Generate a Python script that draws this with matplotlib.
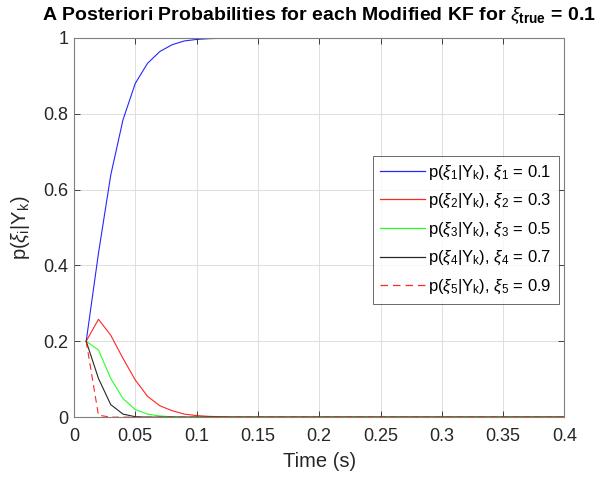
import numpy as np
import matplotlib
matplotlib.use("Agg")
import matplotlib.pyplot as plt
from matplotlib.ticker import FuncFormatter

plt.rcParams['font.family'] = ['Liberation Sans', 'DejaVu Sans']
plt.rcParams['mathtext.fontset'] = 'custom'
plt.rcParams['mathtext.rm'] = 'Liberation Sans'
plt.rcParams['mathtext.it'] = 'Liberation Sans:italic'
plt.rcParams['mathtext.bf'] = 'Liberation Sans:bold'

# time steps of the filter bank
t = np.arange(1, 41) / 100.0

# posterior probabilities (first steps, then settled)
p1_head = [0.2, 0.432, 0.638, 0.784, 0.880, 0.933, 0.964, 0.982, 0.992, 0.996, 0.998, 0.999]
p2_head = [0.2, 0.258, 0.216, 0.155, 0.098, 0.055, 0.030, 0.017, 0.008, 0.004, 0.002, 0.001]
p3_head = [0.2, 0.177, 0.102, 0.049, 0.020, 0.008, 0.003, 0.001]
p4_head = [0.2, 0.102, 0.033, 0.008, 0.001]
p5_head = [0.2, 0.005]

p1 = p1_head + [1.0] * (len(t) - len(p1_head))
p2 = p2_head + [0.0] * (len(t) - len(p2_head))
p3 = p3_head + [0.0] * (len(t) - len(p3_head))
p4 = p4_head + [0.0] * (len(t) - len(p4_head))
p5 = p5_head + [0.0] * (len(t) - len(p5_head))

xi = [0.1, 0.3, 0.5, 0.7, 0.9]
series = [p1, p2, p3, p4, p5]
colors = ['#0000ff', '#ff0000', '#00ff00', '#000000', '#ff0000']
dashes = [None, None, None, None, (6, 4)]

fig = plt.figure(figsize=(6.06, 4.8), dpi=100)
ax = fig.add_axes([0.122, 0.131, 0.8095, 0.79])

for i in range(5):
    line, = ax.plot(t, series[i], color=colors[i], linewidth=0.8, alpha=0.85,
                    label=r'p($\xi_%d$|Y$_\mathrm{k}$), $\xi_%d$ = %g' % (i + 1, i + 1, xi[i]))
    if dashes[i] is not None:
        line.set_dashes(dashes[i])

ax.set_xlim(0, 0.4)
ax.set_ylim(0, 1)
ax.set_xticks(np.arange(0, 0.401, 0.05))
ax.set_yticks(np.arange(0, 1.01, 0.2))
fmt = FuncFormatter(lambda v, pos: ('%.2f' % v).rstrip('0').rstrip('.'))
ax.xaxis.set_major_formatter(fmt)
ax.yaxis.set_major_formatter(fmt)
ax.grid(True, color='#dedede', linewidth=0.7)
ax.tick_params(direction='in', top=True, right=True, labelsize=13, colors='#262626',
               length=4, width=0.6)
ax.tick_params(axis='x', pad=8)
ax.tick_params(axis='y', pad=4)
for s in ax.spines.values():
    s.set_color('#7f7f7f')
    s.set_linewidth(0.8)

ax.set_xlabel('Time (s)', fontsize=14.5, color='#262626', labelpad=5)
ax.set_ylabel(r'p($\xi_\mathrm{i}$|Y$_\mathrm{k}$)', fontsize=14.5, color='#262626', labelpad=8)
ax.set_title(r'A Posteriori Probabilities for each Modified KF for $\xi_\mathbf{true}$ = 0.1',
             fontsize=14, fontweight='bold', pad=13)

leg = ax.legend(loc='upper left', bbox_to_anchor=(0.609, 0.689), fontsize=12,
                frameon=True, fancybox=False, borderaxespad=0, handlelength=2.7,
                labelspacing=0.62, borderpad=0.45, handletextpad=0.15)
leg.get_frame().set_edgecolor('#262626')
leg.get_frame().set_linewidth(0.6)
for h in leg.get_lines():
    h.set_linewidth(0.9)

fig.savefig('out.png', dpi=100)
